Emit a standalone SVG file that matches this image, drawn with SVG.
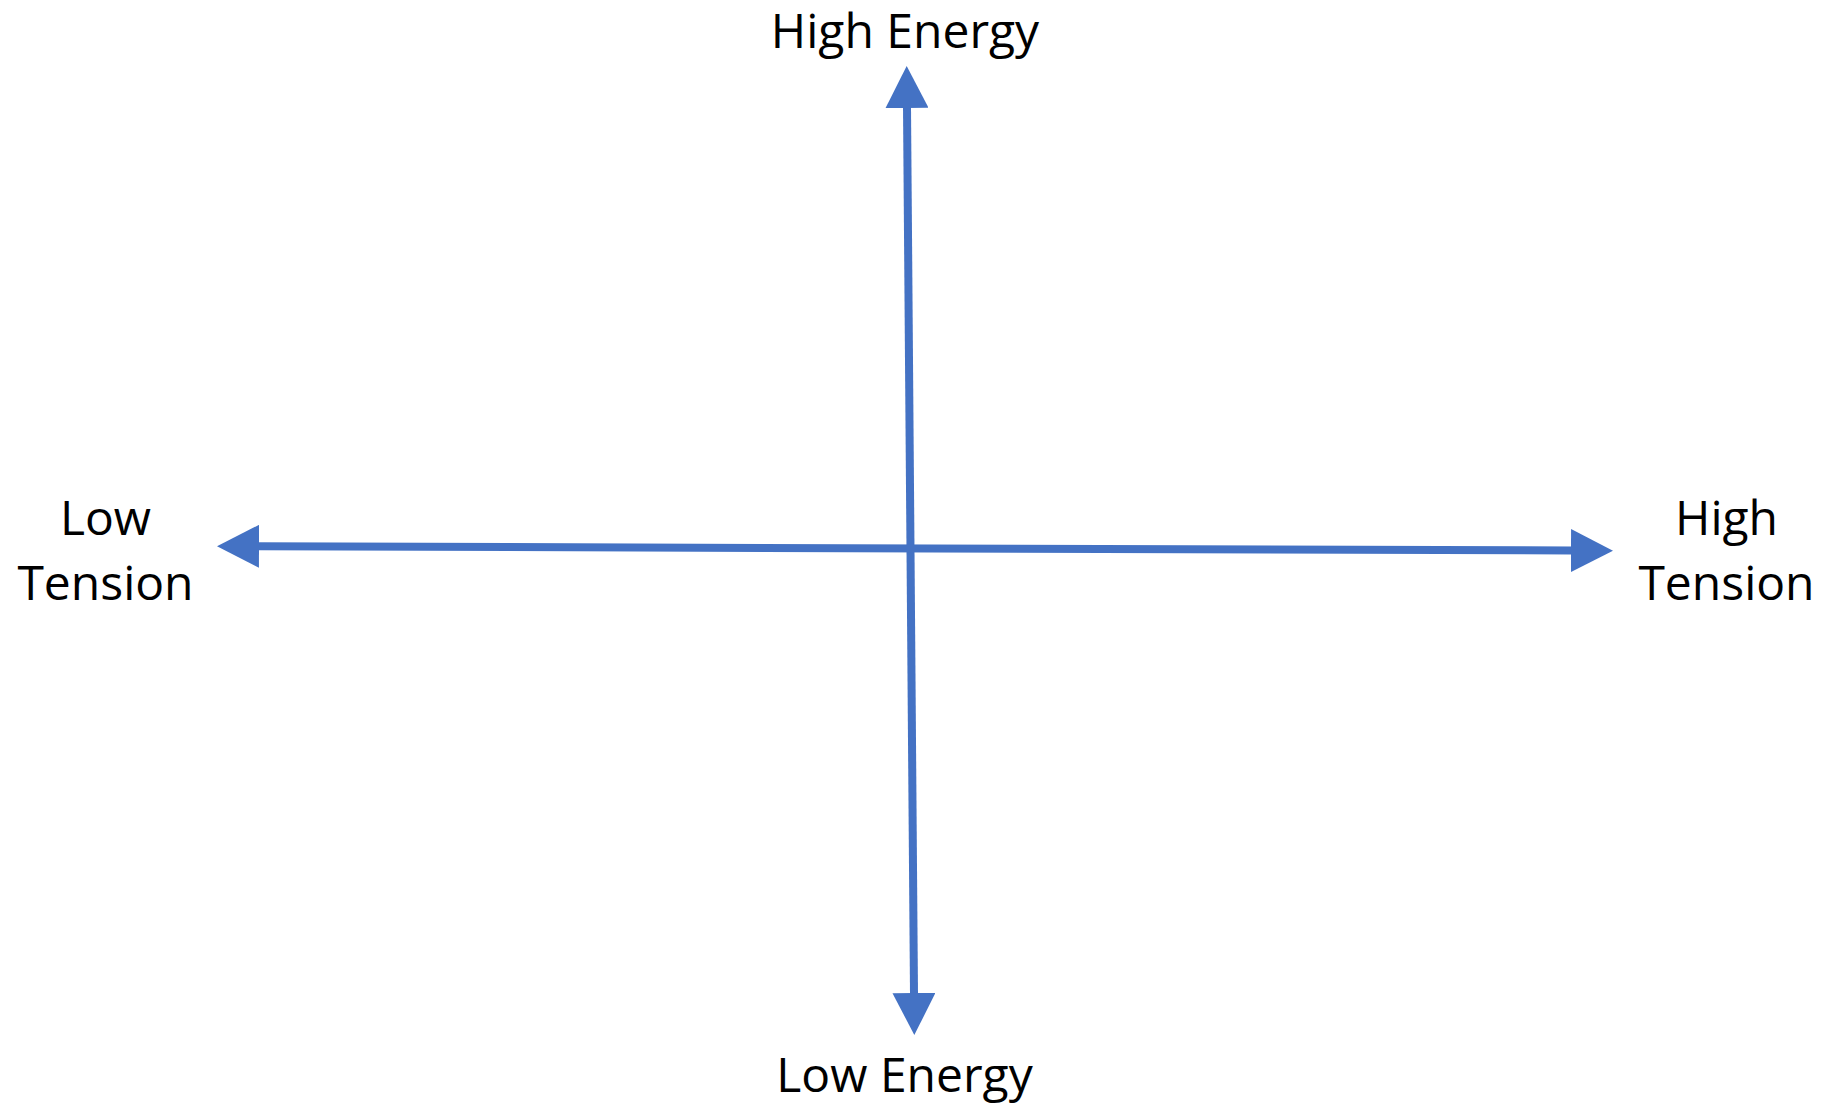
<svg xmlns="http://www.w3.org/2000/svg" width="1833" height="1105" viewBox="0 0 1833 1105">
<style>
.lbl{font-family:"Open Sans","Noto Sans","Liberation Sans",sans-serif;font-size:48px;fill:#000;text-anchor:middle}
.axis{stroke:#4472C4;stroke-width:8;fill:none}
</style>
<defs>
<marker id="head" viewBox="0 0 42 43" markerWidth="42" markerHeight="43" markerUnits="userSpaceOnUse" refX="1" refY="21.5" orient="auto-start-reverse">
<path d="M0,0 L42,21.5 L0,43 Z" fill="#4472C4"/>
</marker>
</defs>
<rect width="1833" height="1105" fill="#fff"/>
<g id="connectors">
<line class="axis" x1="907" y1="107" x2="914" y2="994" marker-start="url(#head)" marker-end="url(#head)"/>
<line class="axis" x1="258" y1="546.3" x2="1572" y2="550.5" marker-start="url(#head)" marker-end="url(#head)"/>
</g>
<g id="high-energy"><text class="lbl" x="905" y="48">High Energy</text></g>
<g id="low-energy"><text class="lbl" x="904.5" y="1092">Low Energy</text></g>
<g id="low-tension"><text class="lbl" x="105.5" y="535">Low</text><text class="lbl" x="105.5" y="600">Tension</text></g>
<g id="high-tension"><text class="lbl" x="1726.5" y="535">High</text><text class="lbl" x="1726.5" y="600">Tension</text></g>
</svg>
